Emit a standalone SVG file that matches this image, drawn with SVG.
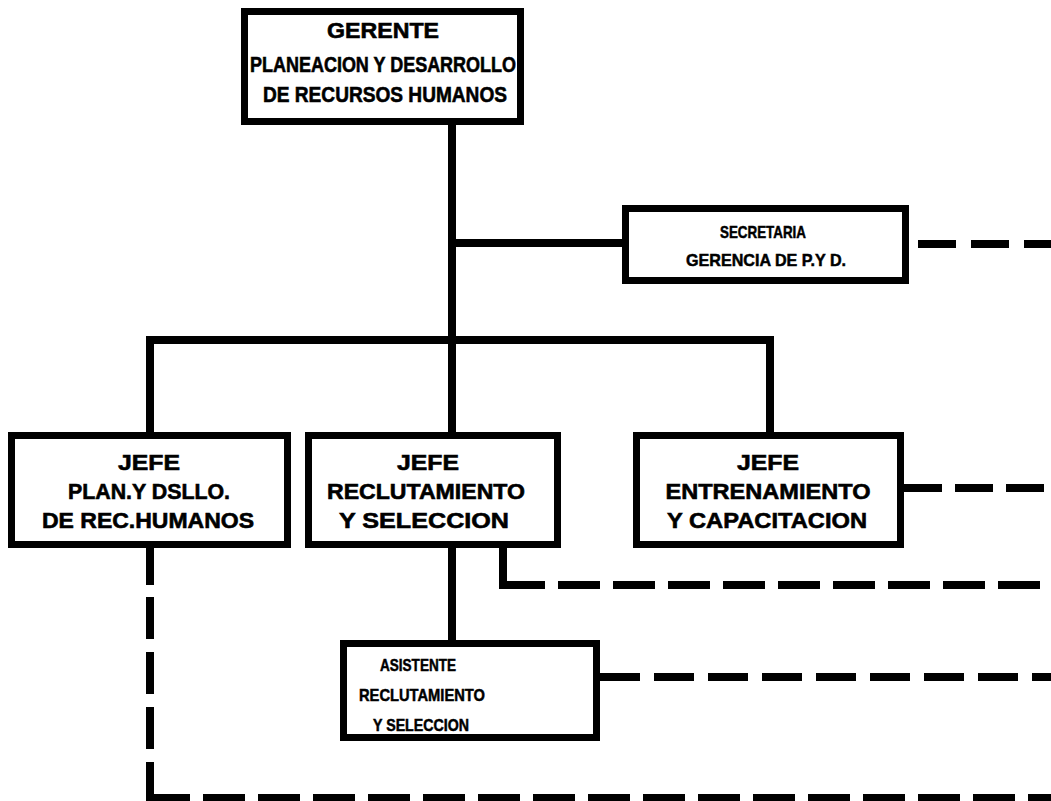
<svg xmlns="http://www.w3.org/2000/svg" width="1051" height="801" viewBox="0 0 1051 801">
<style>
.box{fill:#fff;stroke:#000;stroke-width:7}
.ln{fill:none;stroke:#000;stroke-width:8;stroke-linecap:butt}
.ds{fill:none;stroke:#000;stroke-width:8;stroke-dasharray:42 13}
text{font-family:"Liberation Sans",Arial,Helvetica,sans-serif;font-weight:bold;fill:#000;stroke:#000;stroke-width:0.6;text-anchor:middle}
.t1{font-size:22px}
.t2{font-size:22px}
.t3{font-size:17px;stroke-width:0.5}
</style>
<rect width="1051" height="801" fill="#fff"/>
<g id="connectors">
<path class="ln" d="M452 124V436"/>
<path class="ln" d="M452 243H622"/>
<path class="ln" d="M146 340H774"/>
<path class="ln" d="M150 340V436"/>
<path class="ln" d="M770 340V436"/>
<path class="ln" d="M452 548V644"/>
<path class="ln" d="M503 548V585H545"/>
<path class="ds" d="M558 585H1051"/>
<path class="ds" d="M918 244H1051" style="stroke-dasharray:38 15"/>
<path class="ds" d="M904 488H1051" style="stroke-dasharray:38 13"/>
<path class="ds" d="M600 677H1051" style="stroke-dasharray:40 14"/>
<path class="ln" d="M150 548V585"/>
<path class="ds" d="M150 597V750"/>
<path class="ln" d="M150 762V798H190"/>
<path class="ds" d="M203 798H1051"/>
</g>
<g id="gerente">
<rect class="box" x="244.5" y="11.5" width="276" height="110"/>
<text class="t1" x="383" y="38" textLength="112" lengthAdjust="spacingAndGlyphs">GERENTE</text>
<text class="t1" x="383" y="72" textLength="266" lengthAdjust="spacingAndGlyphs">PLANEACION Y DESARROLLO</text>
<text class="t1" x="385" y="102" textLength="244" lengthAdjust="spacingAndGlyphs">DE RECURSOS HUMANOS</text>
</g>
<g id="secretaria">
<rect class="box" x="625.5" y="208.5" width="280" height="72"/>
<text class="t3" x="763" y="238" textLength="86" lengthAdjust="spacingAndGlyphs">SECRETARIA</text>
<text class="t3" x="766" y="266" textLength="160" lengthAdjust="spacingAndGlyphs">GERENCIA DE P.Y D.</text>
</g>
<g id="jefe-plan">
<rect class="box" x="11.5" y="435.5" width="276" height="109"/>
<text class="t2" x="149" y="470" textLength="62" lengthAdjust="spacingAndGlyphs">JEFE</text>
<text class="t2" x="149" y="499" textLength="162" lengthAdjust="spacingAndGlyphs">PLAN.Y DSLLO.</text>
<text class="t2" x="148" y="528" textLength="212" lengthAdjust="spacingAndGlyphs">DE REC.HUMANOS</text>
</g>
<g id="jefe-reclutamiento">
<rect class="box" x="308.5" y="435.5" width="249" height="109"/>
<text class="t2" x="428" y="470" textLength="62" lengthAdjust="spacingAndGlyphs">JEFE</text>
<text class="t2" x="426" y="499" textLength="198" lengthAdjust="spacingAndGlyphs">RECLUTAMIENTO</text>
<text class="t2" x="424" y="528" textLength="170" lengthAdjust="spacingAndGlyphs">Y SELECCION</text>
</g>
<g id="jefe-entrenamiento">
<rect class="box" x="636.5" y="435.5" width="264" height="109"/>
<text class="t2" x="768" y="470" textLength="62" lengthAdjust="spacingAndGlyphs">JEFE</text>
<text class="t2" x="768" y="499" textLength="205" lengthAdjust="spacingAndGlyphs">ENTRENAMIENTO</text>
<text class="t2" x="767" y="528" textLength="200" lengthAdjust="spacingAndGlyphs">Y CAPACITACION</text>
</g>
<g id="asistente">
<rect class="box" x="343.5" y="643.5" width="253" height="94"/>
<text class="t3" x="418" y="671" textLength="76" lengthAdjust="spacingAndGlyphs">ASISTENTE</text>
<text class="t3" x="422" y="701" textLength="126" lengthAdjust="spacingAndGlyphs">RECLUTAMIENTO</text>
<text class="t3" x="421" y="731" textLength="96" lengthAdjust="spacingAndGlyphs">Y SELECCION</text>
</g>
</svg>
